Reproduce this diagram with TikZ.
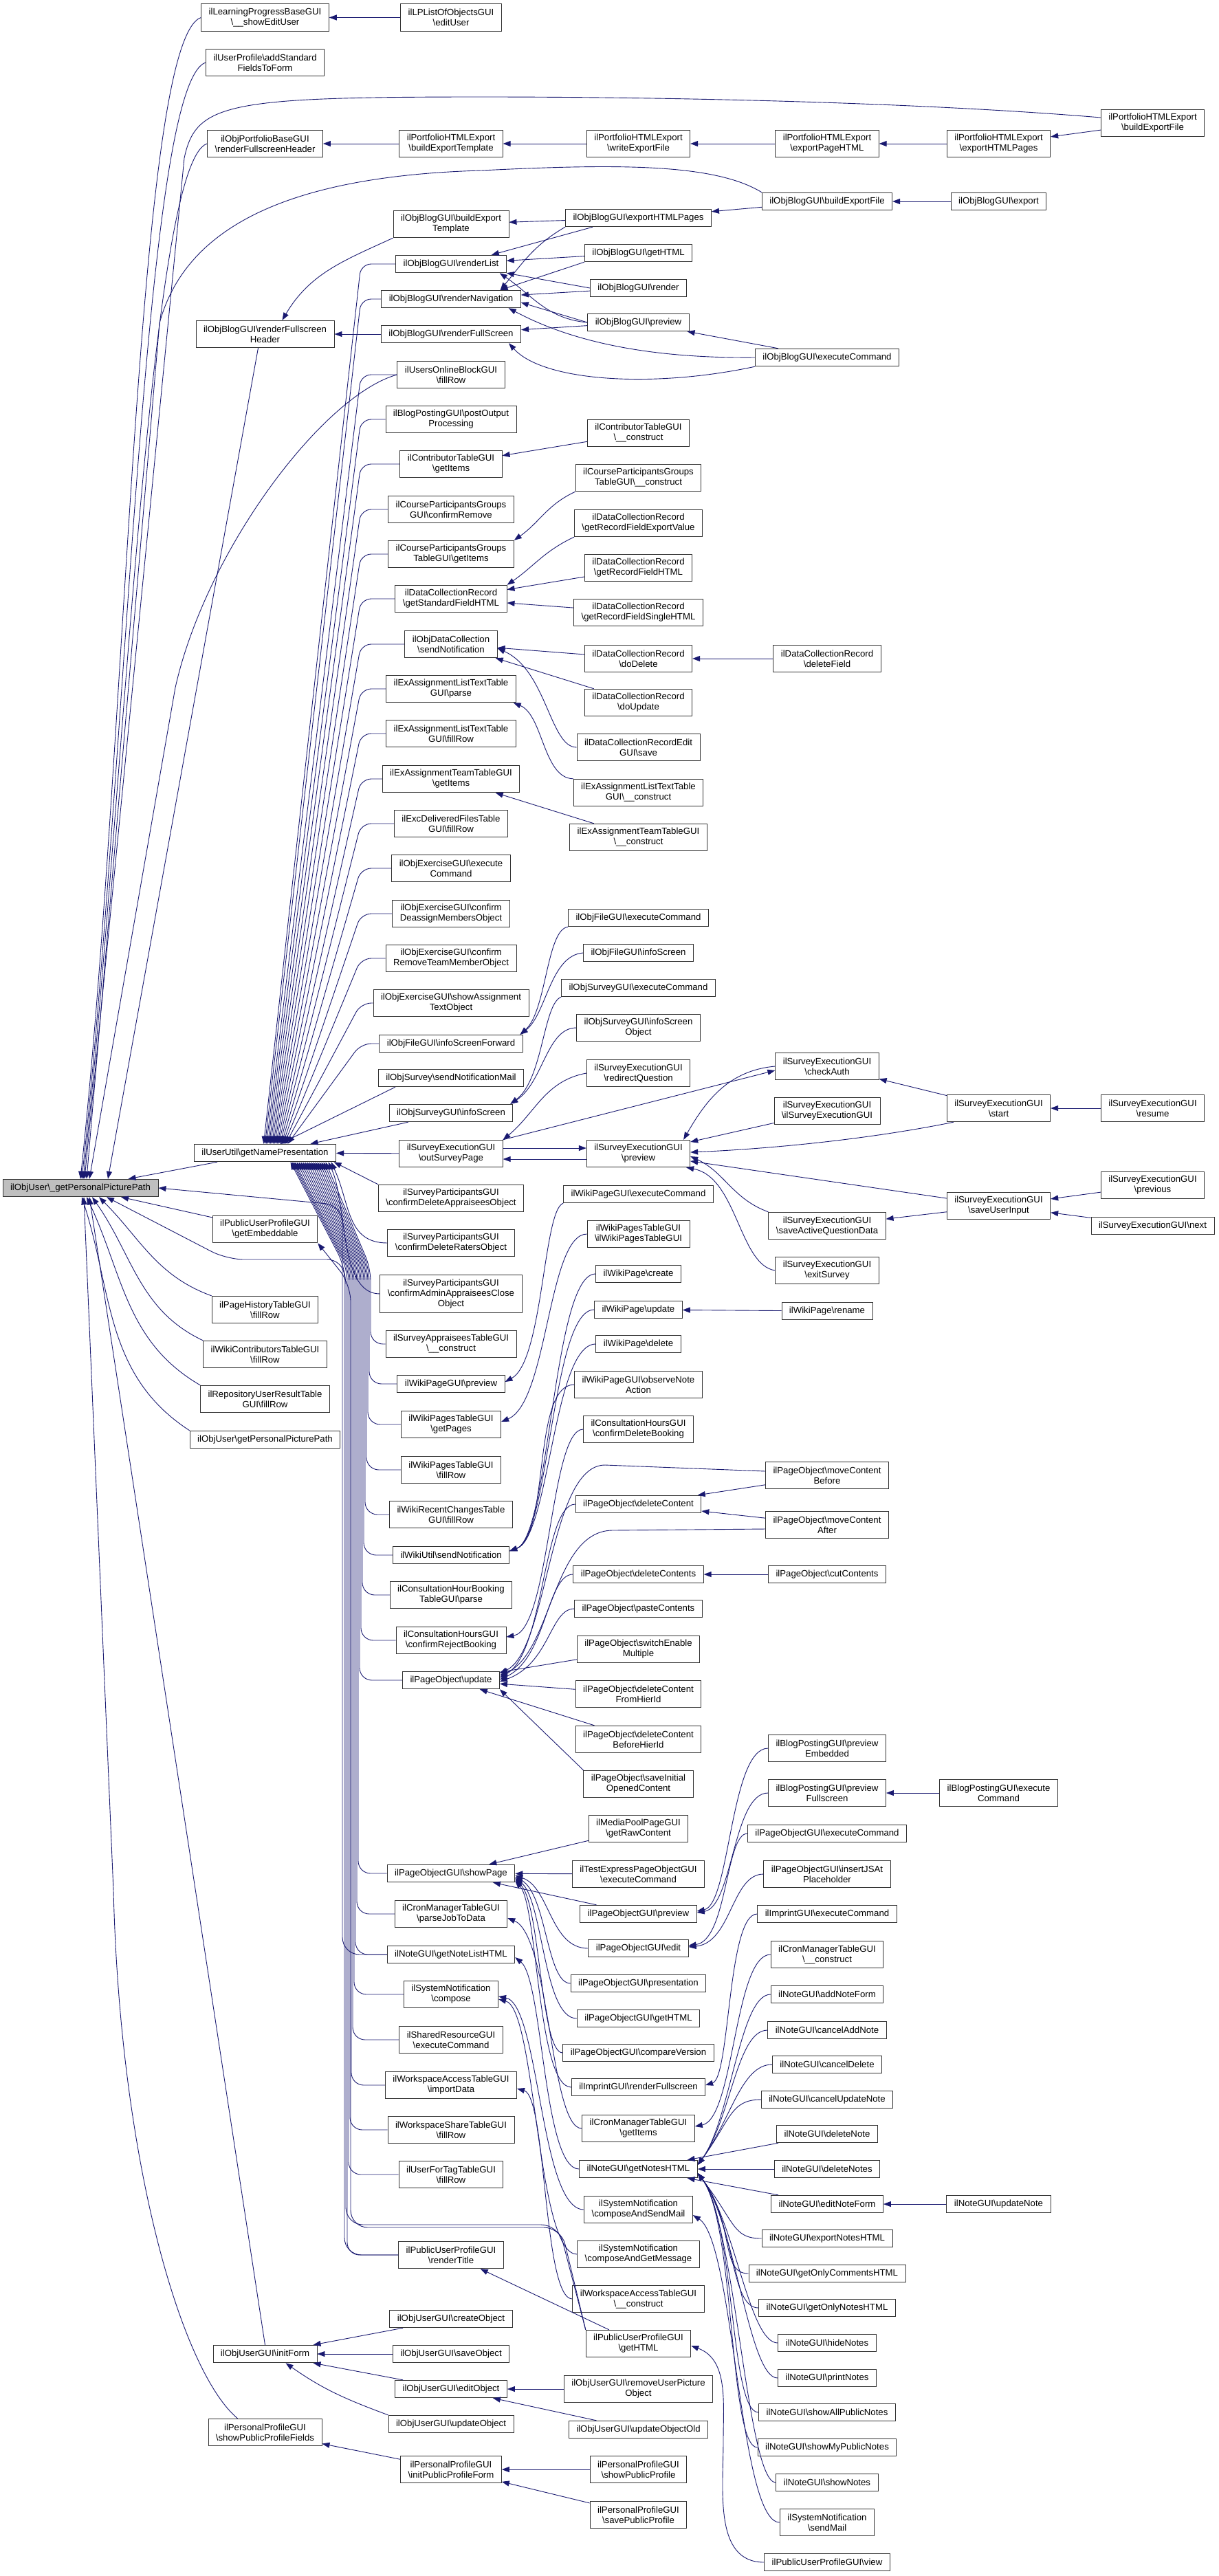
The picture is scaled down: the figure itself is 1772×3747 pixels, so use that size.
\documentclass[tikz,border=0pt]{standalone}
\usepackage{fontspec}
\setmainfont{Liberation Sans}
\usetikzlibrary{arrows.meta}
\definecolor{edgeblue}{HTML}{191970}
\definecolor{rootgray}{HTML}{BFBFBF}
\newcommand{\bsl}{\textbackslash}
\newcommand{\boxfont}{\fontsize{13.2}{15}\selectfont}
\tikzset{
  fn/.style={draw=black!80,line width=0.9pt,fill=white,align=center,
    inner xsep=11pt,inner ysep=0pt,minimum height=25.5pt,font=\boxfont},
  fnn/.style={fn,minimum height=39.5pt},
  fnnn/.style={fn,minimum height=54.5pt},
  call/.style={->,draw=edgeblue,line width=0.9pt},
}
\begin{document}
\begin{tikzpicture}[x=1pt,y=1pt,>={Triangle[length=11pt,width=8pt]}]
\useasboundingbox (0,0) rectangle (1772,-3747);

\node[fn,fill=rootgray] (root) at (117,-1728) {ilObjUser\bsl\_getPersonalPicturePath};

\node[fnn] (lpedit) at (385.5,-25.5) {ilLearningProgressBaseGUI\\\bsl\_\_showEditUser};
\node[fnn] (upadd) at (385.5,-91) {ilUserProfile\bsl addStandard\\FieldsToForm};
\node[fnn] (pbrfh) at (385.5,-209) {ilObjPortfolioBaseGUI\\\bsl renderFullscreenHeader};
\node[fnn] (brfh) at (385.5,-486) {ilObjBlogGUI\bsl renderFullscreen\\Header};
\node[fn] (gnp) at (385.5,-1677) {ilUserUtil\bsl getNamePresentation};
\node[fnn] (pupemb) at (385.5,-1788) {ilPublicUserProfileGUI\\\bsl getEmbeddable};
\node[fnn] (phfill) at (385.5,-1905) {ilPageHistoryTableGUI\\\bsl fillRow};
\node[fnn] (wcfill) at (385.5,-1970) {ilWikiContributorsTableGUI\\\bsl fillRow};
\node[fnn] (rurfill) at (385.5,-2035) {ilRepositoryUserResultTable\\GUI\bsl fillRow};
\node[fn] (gppp) at (385.5,-2094) {ilObjUser\bsl getPersonalPicturePath};
\node[fn] (uinit) at (385.5,-3424) {ilObjUserGUI\bsl initForm};
\node[fnn] (ppfields) at (385.5,-3538) {ilPersonalProfileGUI\\\bsl showPublicProfileFields};

\node[fnn] (lpuser) at (656,-25.5) {ilLPListOfObjectsGUI\\\bsl editUser};
\node[fnn] (pbet) at (656,-209) {ilPortfolioHTMLExport\\\bsl buildExportTemplate};
\node[fnn] (bbet) at (656,-326) {ilObjBlogGUI\bsl buildExport\\Template};
\node[fn] (brl) at (656,-384) {ilObjBlogGUI\bsl renderList};
\node[fn] (brn) at (656,-435) {ilObjBlogGUI\bsl renderNavigation};
\node[fn] (brfs) at (656,-486) {ilObjBlogGUI\bsl renderFullScreen};
\node[fnn] (uofill) at (656,-545) {ilUsersOnlineBlockGUI\\\bsl fillRow};
\node[fnn] (bpop) at (656,-610) {ilBlogPostingGUI\bsl postOutput\\Processing};
\node[fnn] (ctitems) at (656,-675) {ilContributorTableGUI\\\bsl getItems};
\node[fnn] (cpgrem) at (656,-741) {ilCourseParticipantsGroups\\GUI\bsl confirmRemove};
\node[fnn] (cpgitems) at (656,-806) {ilCourseParticipantsGroups\\TableGUI\bsl getItems};
\node[fnn] (dcrsfh) at (656,-871) {ilDataCollectionRecord\\\bsl getStandardFieldHTML};
\node[fnn] (dcnotif) at (656,-937) {ilObjDataCollection\\\bsl sendNotification};
\node[fnn] (exparse) at (656,-1002) {ilExAssignmentListTextTable\\GUI\bsl parse};
\node[fnn] (exfill) at (656,-1067) {ilExAssignmentListTextTable\\GUI\bsl fillRow};
\node[fnn] (extitems) at (656,-1133) {ilExAssignmentTeamTableGUI\\\bsl getItems};
\node[fnn] (excfill) at (656,-1198) {ilExcDeliveredFilesTable\\GUI\bsl fillRow};
\node[fnn] (oexec) at (656,-1263) {ilObjExerciseGUI\bsl execute\\Command};
\node[fnn] (odeassign) at (656,-1329) {ilObjExerciseGUI\bsl confirm\\DeassignMembersObject};
\node[fnn] (oremteam) at (656,-1394) {ilObjExerciseGUI\bsl confirm\\RemoveTeamMemberObject};
\node[fnn] (oshowtext) at (656,-1459) {ilObjExerciseGUI\bsl showAssignment\\TextObject};
\node[fn] (fisf) at (656,-1518) {ilObjFileGUI\bsl infoScreenForward};
\node[fn] (osnm) at (656,-1568) {ilObjSurvey\bsl sendNotificationMail};
\node[fn] (osis) at (656,-1619) {ilObjSurveyGUI\bsl infoScreen};
\node[fnn] (seosp) at (656,-1678) {ilSurveyExecutionGUI\\\bsl outSurveyPage};
\node[fnn] (spdelapp) at (656,-1743) {ilSurveyParticipantsGUI\\\bsl confirmDeleteAppraiseesObject};
\node[fnn] (spdelrat) at (656,-1808) {ilSurveyParticipantsGUI\\\bsl confirmDeleteRatersObject};
\node[fnnn] (spadmin) at (656,-1882) {ilSurveyParticipantsGUI\\\bsl confirmAdminAppraiseesClose\\Object};
\node[fnn] (satctor) at (656,-1955) {ilSurveyAppraiseesTableGUI\\\bsl\_\_construct};
\node[fn] (wpgprev) at (656,-2013) {ilWikiPageGUI\bsl preview};
\node[fnn] (wptpages) at (656,-2072) {ilWikiPagesTableGUI\\\bsl getPages};
\node[fnn] (wptfill) at (656,-2138) {ilWikiPagesTableGUI\\\bsl fillRow};
\node[fnn] (wrcfill) at (656,-2203) {ilWikiRecentChangesTable\\GUI\bsl fillRow};
\node[fn] (wusend) at (656,-2262) {ilWikiUtil\bsl sendNotification};
\node[fnn] (chbparse) at (656,-2320) {ilConsultationHourBooking\\TableGUI\bsl parse};
\node[fnn] (chreject) at (656,-2386) {ilConsultationHoursGUI\\\bsl confirmRejectBooking};
\node[fn] (poupdate) at (656,-2444) {ilPageObject\bsl update};
\node[fn] (pogshow) at (656,-2725) {ilPageObjectGUI\bsl showPage};
\node[fnn] (cmparse) at (656,-2784) {ilCronManagerTableGUI\\\bsl parseJobToData};
\node[fn] (nglist) at (656,-2843) {ilNoteGUI\bsl getNoteListHTML};
\node[fnn] (sncompose) at (656,-2901) {ilSystemNotification\\\bsl compose};
\node[fnn] (srexec) at (656,-2967) {ilSharedResourceGUI\\\bsl executeCommand};
\node[fnn] (waimport) at (656,-3033) {ilWorkspaceAccessTableGUI\\\bsl importData};
\node[fnn] (wsfill) at (656,-3098) {ilWorkspaceShareTableGUI\\\bsl fillRow};
\node[fnn] (uftfill) at (656,-3163) {ilUserForTagTableGUI\\\bsl fillRow};
\node[fnn] (puptitle) at (656,-3280) {ilPublicUserProfileGUI\\\bsl renderTitle};
\node[fn] (ucreate) at (656,-3373) {ilObjUserGUI\bsl createObject};
\node[fn] (usave) at (656,-3424) {ilObjUserGUI\bsl saveObject};
\node[fn] (uedit) at (656,-3475) {ilObjUserGUI\bsl editObject};
\node[fn] (uupdate) at (656,-3526) {ilObjUserGUI\bsl updateObject};
\node[fnn] (ppinit) at (656,-3592) {ilPersonalProfileGUI\\\bsl initPublicProfileForm};

\node[fnn] (pwef) at (928.5,-209) {ilPortfolioHTMLExport\\\bsl writeExportFile};
\node[fn] (behp) at (928.5,-317) {ilObjBlogGUI\bsl exportHTMLPages};
\node[fn] (bhtml) at (928.5,-368) {ilObjBlogGUI\bsl getHTML};
\node[fn] (brender) at (928.5,-419) {ilObjBlogGUI\bsl render};
\node[fn] (bprev) at (928.5,-469) {ilObjBlogGUI\bsl preview};
\node[fnn] (ctctor) at (928.5,-630) {ilContributorTableGUI\\\bsl\_\_construct};
\node[fnn] (cpgctor) at (928.5,-695) {ilCourseParticipantsGroups\\TableGUI\bsl\_\_construct};
\node[fnn] (dcrexp) at (928.5,-761) {ilDataCollectionRecord\\\bsl getRecordFieldExportValue};
\node[fnn] (dcrhtml) at (928.5,-826) {ilDataCollectionRecord\\\bsl getRecordFieldHTML};
\node[fnn] (dcrsingle) at (928.5,-891) {ilDataCollectionRecord\\\bsl getRecordFieldSingleHTML};
\node[fnn] (dcrdel) at (928.5,-958) {ilDataCollectionRecord\\\bsl doDelete};
\node[fnn] (dcrupd) at (928.5,-1022) {ilDataCollectionRecord\\\bsl doUpdate};
\node[fnn] (dcesave) at (928.5,-1087) {ilDataCollectionRecordEdit\\GUI\bsl save};
\node[fnn] (exctor) at (928.5,-1153) {ilExAssignmentListTextTable\\GUI\bsl\_\_construct};
\node[fnn] (extctor) at (928.5,-1218) {ilExAssignmentTeamTableGUI\\\bsl\_\_construct};
\node[fn] (fexec) at (928.5,-1335) {ilObjFileGUI\bsl executeCommand};
\node[fn] (finfo) at (928.5,-1386) {ilObjFileGUI\bsl infoScreen};
\node[fn] (osexec) at (928.5,-1437) {ilObjSurveyGUI\bsl executeCommand};
\node[fnn] (osiso) at (928.5,-1495) {ilObjSurveyGUI\bsl infoScreen\\Object};
\node[fnn] (seredir) at (928.5,-1561) {ilSurveyExecutionGUI\\\bsl redirectQuestion};
\node[fnn] (seprev) at (928.5,-1678) {ilSurveyExecutionGUI\\\bsl preview};
\node[fn] (wpgexec) at (928.5,-1737) {ilWikiPageGUI\bsl executeCommand};
\node[fnn] (wptctor) at (928.5,-1795) {ilWikiPagesTableGUI\\\bsl ilWikiPagesTableGUI};
\node[fn] (wpcreate) at (928.5,-1853) {ilWikiPage\bsl create};
\node[fn] (wpupdate) at (928.5,-1905) {ilWikiPage\bsl update};
\node[fn] (wpdelete) at (928.5,-1955) {ilWikiPage\bsl delete};
\node[fnn] (wpgobs) at (928.5,-2014) {ilWikiPageGUI\bsl observeNote\\Action};
\node[fnn] (chdel) at (928.5,-2079) {ilConsultationHoursGUI\\\bsl confirmDeleteBooking};
\node[fn] (podelc) at (928.5,-2188) {ilPageObject\bsl deleteContent};
\node[fn] (podelcs) at (928.5,-2290) {ilPageObject\bsl deleteContents};
\node[fn] (popaste) at (928.5,-2340) {ilPageObject\bsl pasteContents};
\node[fnn] (poswitch) at (928.5,-2399) {ilPageObject\bsl switchEnable\\Multiple};
\node[fnn] (podelfrom) at (928.5,-2464) {ilPageObject\bsl deleteContent\\FromHierId};
\node[fnn] (podelbef) at (928.5,-2530) {ilPageObject\bsl deleteContent\\BeforeHierId};
\node[fnn] (posave) at (928.5,-2595) {ilPageObject\bsl saveInitial\\OpenedContent};
\node[fnn] (mpraw) at (928.5,-2660) {ilMediaPoolPageGUI\\\bsl getRawContent};
\node[fnn] (teexec) at (928.5,-2726) {ilTestExpressPageObjectGUI\\\bsl executeCommand};
\node[fn] (pogprev) at (928.5,-2784) {ilPageObjectGUI\bsl preview};
\node[fn] (pogedit) at (928.5,-2834) {ilPageObjectGUI\bsl edit};
\node[fn] (pogpres) at (928.5,-2885) {ilPageObjectGUI\bsl presentation};
\node[fn] (poghtml) at (928.5,-2936) {ilPageObjectGUI\bsl getHTML};
\node[fn] (pogcmp) at (928.5,-2986) {ilPageObjectGUI\bsl compareVersion};
\node[fn] (imprfs) at (928.5,-3036) {ilImprintGUI\bsl renderFullscreen};
\node[fnn] (cmitems) at (928.5,-3096) {ilCronManagerTableGUI\\\bsl getItems};
\node[fn] (ngnotes) at (928.5,-3155) {ilNoteGUI\bsl getNotesHTML};
\node[fnn] (snsend) at (928.5,-3214) {ilSystemNotification\\\bsl composeAndSendMail};
\node[fnn] (snget) at (928.5,-3279) {ilSystemNotification\\\bsl composeAndGetMessage};
\node[fnn] (wactor) at (928.5,-3344) {ilWorkspaceAccessTableGUI\\\bsl\_\_construct};
\node[fnn] (puphtml) at (928.5,-3409) {ilPublicUserProfileGUI\\\bsl getHTML};
\node[fnn] (uremove) at (928.5,-3475) {ilObjUserGUI\bsl removeUserPicture\\Object};
\node[fn] (uupdold) at (928.5,-3534) {ilObjUserGUI\bsl updateObjectOld};
\node[fnn] (ppshow) at (928.5,-3592) {ilPersonalProfileGUI\\\bsl showPublicProfile};
\node[fnn] (ppsavep) at (928.5,-3658) {ilPersonalProfileGUI\\\bsl savePublicProfile};

\node[fnn] (pephtml) at (1203,-209) {ilPortfolioHTMLExport\\\bsl exportPageHTML};
\node[fn] (bbef) at (1203,-293) {ilObjBlogGUI\bsl buildExportFile};
\node[fn] (bexec) at (1203,-520) {ilObjBlogGUI\bsl executeCommand};
\node[fnn] (dcrdelf) at (1203,-958) {ilDataCollectionRecord\\\bsl deleteField};
\node[fnn] (seauth) at (1203,-1551) {ilSurveyExecutionGUI\\\bsl checkAuth};
\node[fnn] (sector) at (1203,-1616) {ilSurveyExecutionGUI\\\bsl ilSurveyExecutionGUI};
\node[fnn] (sesave) at (1203,-1783) {ilSurveyExecutionGUI\\\bsl saveActiveQuestionData};
\node[fnn] (seexit) at (1203,-1848) {ilSurveyExecutionGUI\\\bsl exitSurvey};
\node[fn] (wprename) at (1203,-1907) {ilWikiPage\bsl rename};
\node[fnn] (pomvb) at (1203,-2146) {ilPageObject\bsl moveContent\\Before};
\node[fnn] (pomva) at (1203,-2218) {ilPageObject\bsl moveContent\\After};
\node[fn] (pocut) at (1203,-2290) {ilPageObject\bsl cutContents};
\node[fnn] (bpemb) at (1203,-2543) {ilBlogPostingGUI\bsl preview\\Embedded};
\node[fnn] (bpfull) at (1203,-2608) {ilBlogPostingGUI\bsl preview\\Fullscreen};
\node[fn] (pogexec) at (1203,-2667) {ilPageObjectGUI\bsl executeCommand};
\node[fnn] (pogjs) at (1203,-2726) {ilPageObjectGUI\bsl insertJSAt\\Placeholder};
\node[fn] (imprexec) at (1203,-2784) {ilImprintGUI\bsl executeCommand};
\node[fnn] (cmctor) at (1203,-2843) {ilCronManagerTableGUI\\\bsl\_\_construct};
\node[fn] (nadd) at (1203,-2901) {ilNoteGUI\bsl addNoteForm};
\node[fn] (ncanadd) at (1203,-2953) {ilNoteGUI\bsl cancelAddNote};
\node[fn] (ncandel) at (1203,-3003) {ilNoteGUI\bsl cancelDelete};
\node[fn] (ncanupd) at (1203,-3054) {ilNoteGUI\bsl cancelUpdateNote};
\node[fn] (ndel) at (1203,-3104) {ilNoteGUI\bsl deleteNote};
\node[fn] (ndels) at (1203,-3155) {ilNoteGUI\bsl deleteNotes};
\node[fn] (nedit) at (1203,-3206) {ilNoteGUI\bsl editNoteForm};
\node[fn] (nexport) at (1203,-3256) {ilNoteGUI\bsl exportNotesHTML};
\node[fn] (ncomm) at (1203,-3307) {ilNoteGUI\bsl getOnlyCommentsHTML};
\node[fn] (nonly) at (1203,-3357) {ilNoteGUI\bsl getOnlyNotesHTML};
\node[fn] (nhide) at (1203,-3408) {ilNoteGUI\bsl hideNotes};
\node[fn] (nprint) at (1203,-3459) {ilNoteGUI\bsl printNotes};
\node[fn] (nallpub) at (1203,-3509) {ilNoteGUI\bsl showAllPublicNotes};
\node[fn] (nmypub) at (1203,-3560) {ilNoteGUI\bsl showMyPublicNotes};
\node[fn] (nshow) at (1203,-3611) {ilNoteGUI\bsl showNotes};
\node[fnn] (snmail) at (1203,-3669) {ilSystemNotification\\\bsl sendMail};
\node[fn] (pupview) at (1203,-3727) {ilPublicUserProfileGUI\bsl view};

\node[fnn] (pehp) at (1452.5,-209) {ilPortfolioHTMLExport\\\bsl exportHTMLPages};
\node[fn] (bexport) at (1452.5,-293) {ilObjBlogGUI\bsl export};
\node[fnn] (sestart) at (1452.5,-1612) {ilSurveyExecutionGUI\\\bsl start};
\node[fnn] (seinput) at (1452.5,-1754) {ilSurveyExecutionGUI\\\bsl saveUserInput};
\node[fnn] (bpexec) at (1452.5,-2608) {ilBlogPostingGUI\bsl execute\\Command};
\node[fn] (nupd) at (1452.5,-3206) {ilNoteGUI\bsl updateNote};

\node[fnn] (pbef) at (1676.5,-179) {ilPortfolioHTMLExport\\\bsl buildExportFile};
\node[fnn] (seresume) at (1676.5,-1612) {ilSurveyExecutionGUI\\\bsl resume};
\node[fnn] (seprevq) at (1676.5,-1724) {ilSurveyExecutionGUI\\\bsl previous};
\node[fn] (senext) at (1676.5,-1783) {ilSurveyExecutionGUI\bsl next};

\foreach \a/\b in {lpuser/lpedit,pbet/pbrfh,pwef/pbet,pephtml/pwef,pehp/pephtml,pbef/pehp,
  behp/bbet,bbef/behp,bexport/bbef,bexec/bprev,brfs/brfh,bhtml/brl,brender/brn,bprev/brfs,
  ctctor/ctitems,dcrhtml/dcrsfh,dcrsingle/dcrsfh,dcrdelf/dcrdel,dcrdel/dcnotif,dcrupd/dcnotif,
  extctor/extitems,sector/seprev,seinput/seprev,sestart/seauth,seresume/sestart,seinput/sesave,
  seprevq/seinput,senext/seinput,seosp/gnp,gnp/root,pupemb/root,wprename/wpupdate,
  pomvb/podelc,pomva/podelc,pocut/podelcs,poswitch/poupdate,podelfrom/poupdate,podelbef/poupdate,
  mpraw/pogshow,teexec/pogshow,pogprev/pogshow,bpexec/bpfull,nupd/nedit,ndel/ngnotes,
  ndels/ngnotes,nedit/ngnotes,ucreate/uinit,usave/uinit,uedit/uinit,uremove/uedit,
  uupdold/uedit,ppinit/ppfields,ppshow/ppinit,ppsavep/ppinit,puphtml/puptitle}
  {\draw[call] (\a) -- (\b);}

\draw[call] (lpedit.west) .. controls +(-94,-34) and +(70,660) .. (root.north);
\draw[call] (upadd.west) .. controls +(-90,-33) and +(68,640) .. ([xshift=2pt]root.north);
\draw[call] (pbrfh.west) .. controls +(-84,-30) and +(62,590) .. ([xshift=4pt]root.north);
\draw[call] ([yshift=8pt]pbef.west) .. controls (1350,-150) and (1000,-141) .. (700,-141)
  .. controls (330,-141) and (285,-150) .. (268,-230) -- ([xshift=6pt]root.north);
\draw[call] (bbef.north west) .. controls (1040,-238) and (900,-238) .. (700,-248)
  .. controls (420,-256) and (270,-330) .. (232,-470) -- ([xshift=9pt]root.north);
\draw[call] (uofill.west) .. controls (470,-575) and (300,-800) .. (255,-1000) -- ([xshift=13pt]root.north);
\draw[call] ([xshift=-10pt]brfh.south) -- ([xshift=40pt]root.north);
\draw[call] (phfill.north west) .. controls +(-80,29) and +(60,-60) .. ([xshift=27pt]root.south);
\draw[call] (wcfill.north west) .. controls +(-93,44) and +(59,-84) .. ([xshift=17pt]root.south);
\draw[call] (rurfill.north west) .. controls +(-108,63) and +(53,-113) .. ([xshift=9pt]root.south);
\draw[call] (gppp.north west) .. controls +(-123,80) and +(45,-140) .. ([xshift=2pt]root.south);
\draw[call] (uinit.north) -- ([xshift=13pt]root.south);
\draw[call] ([xshift=-40pt]ppfields.north) .. controls (265,-3450) and (175,-3150) .. (165,-2750) -- ([xshift=5pt]root.south);
\draw[call,rounded corners=25pt] (nglist.west) -- (498,-2843) -- (498,-1753) -- (root.east);
\draw[call,rounded corners=25pt] (puptitle.west) -- (501,-3280) -- (501,-1832) -- (330,-1832) -- ([xshift=38pt]root.south);

\draw[call] ([xshift=40pt]behp.south west) -- ([xshift=-22pt]brl.north east);
\draw[call] (behp.south west) .. controls +(-45,-26) and +(33,40) .. ([xshift=-30pt]brn.north east);
\draw[call] (bhtml.south west) -- ([xshift=-30pt]brn.north east);
\draw[call] (brender.west) -- (brl.south east);
\draw[call] (bprev.west) .. controls +(-58,5) and +(48,-33) .. ([xshift=-10pt]brl.south east);
\draw[call] (bprev.west) -- ([yshift=-5pt]brn.east);
\draw[call] (bexec.west) .. controls (900,-522) and (800,-480) .. ([xshift=-18pt]brn.south east);
\draw[call] (bexec.south west) .. controls (950,-565) and (790,-555) .. ([xshift=-18pt]brfs.south east);
\draw[call] (bbet.south west) .. controls +(-72,-33) and +(40,68) .. ([xshift=25pt]brfh.north);

\draw[call] (cpgctor.south west) .. controls +(-41,-19) and +(37,26) .. (cpgitems.north east);
\draw[call] (dcrexp.south west) .. controls +(-43,-20) and +(39,27) .. (dcrsfh.north east);
\draw[call] (dcesave.west) .. controls (800,-1087) and (795,-975) .. ([yshift=-6pt]dcnotif.east);
\draw[call] (exctor.north west) .. controls (790,-1132) and (790,-1040) .. ([xshift=-4pt]exparse.south east);
\draw[call] (fexec.south west) .. controls (795,-1352) and (795,-1470) .. ([xshift=-4pt]fisf.north east);
\draw[call] (finfo.west) .. controls (800,-1390) and (795,-1475) .. ([xshift=-4pt]fisf.north east);
\draw[call] (osexec.south west) .. controls (790,-1460) and (790,-1570) .. ([xshift=-4pt]osis.north east);
\draw[call] (osiso.west) .. controls (795,-1495) and (790,-1575) .. ([xshift=-4pt]osis.north east);
\draw[call] (seredir.west) .. controls +(-60,-11) and +(47,39) .. (seosp.north east);

\draw[call] ([yshift=8pt]seosp.east) -- ([yshift=8pt]seprev.west);
\draw[call] ([yshift=-8pt]seprev.west) -- ([yshift=-8pt]seosp.east);
\draw[call] (seosp.north east) -- ([yshift=-6pt]seauth.west);
\draw[call] (seauth.west) .. controls +(-67,-6) and +(33,58) .. ([xshift=-10pt]seprev.north east);
\draw[call] ([xshift=10pt]sestart.south west) .. controls (1250,-1660) and (1100,-1672) .. ([yshift=2pt]seprev.east);
\draw[call] (sesave.north west) .. controls +(-52,19) and +(50,-23) .. ([yshift=-4pt]seprev.east);
\draw[call] (seexit.west) .. controls (1075,-1840) and (1072,-1712) .. ([xshift=-6pt]seprev.south east);

\draw[call] (wpgexec.south west) .. controls (790,-1760) and (790,-1980) .. ([yshift=3pt]wpgprev.east);
\draw[call] (wptctor.west) .. controls (797,-1795) and (797,-2040) .. ([yshift=4pt]wptpages.east);
\foreach \n in {wpcreate,wpupdate,wpdelete,wpgobs}
  {\draw[call] (\n.west) .. controls +(-62,0) and (800,-2235) .. ([yshift=6pt]wusend.east);}
\draw[call] (chdel.west) .. controls (800,-2079) and (800,-2370) .. ([yshift=5pt]chreject.east);
\draw[call] ([yshift=6pt]pomvb.west) -- (880,-2131) .. controls (798,-2131) and (798,-2400) .. ([yshift=10pt]poupdate.east);
\draw[call] ([yshift=-6pt]pomva.west) -- (890,-2226) .. controls (803,-2228) and (803,-2405) .. ([yshift=7pt]poupdate.east);
\draw[call] (podelc.west) .. controls (790,-2188) and (792,-2405) .. ([yshift=4pt]poupdate.east);
\draw[call] (podelcs.west) .. controls (795,-2290) and (795,-2412) .. ([yshift=1pt]poupdate.east);
\draw[call] (popaste.west) .. controls (800,-2340) and (800,-2420) .. ([yshift=-2pt]poupdate.east);
\draw[call] (posave.north west) -- (poupdate.south east);

\draw[call] (pogedit.west) .. controls (800,-2834) and (800,-2745) .. ([yshift=-3pt]pogshow.east);
\draw[call] (pogpres.west) .. controls (795,-2885) and (795,-2755) .. ([yshift=-5pt]pogshow.east);
\draw[call] (poghtml.west) .. controls (790,-2936) and (790,-2762) .. ([yshift=-7pt]pogshow.east);
\draw[call] (pogcmp.west) .. controls (786,-2986) and (786,-2768) .. ([yshift=-9pt]pogshow.east);
\draw[call] (imprfs.west) .. controls (782,-3036) and (782,-2772) .. ([yshift=-11pt]pogshow.east);
\draw[call] (bpemb.west) .. controls (1062,-2543) and (1062,-2770) .. ([yshift=4pt]pogprev.east);
\draw[call] (bpfull.west) .. controls (1066,-2608) and (1066,-2774) .. ([yshift=2pt]pogprev.east);
\draw[call] (pogexec.west) .. controls (1055,-2667) and (1058,-2822) .. ([yshift=4pt]pogedit.east);
\draw[call] (pogjs.west) .. controls (1064,-2726) and (1064,-2826) .. ([yshift=2pt]pogedit.east);
\draw[call] (imprexec.west) .. controls (1058,-2784) and (1062,-3022) .. ([yshift=3pt]imprfs.east);
\draw[call] (cmctor.west) .. controls (1068,-2843) and (1068,-3082) .. ([yshift=3pt]cmitems.east);

\foreach \n in {nadd,ncanadd,ncandel,ncanupd}
  {\draw[call] (\n.west) .. controls +(-45,0) and +(48,65) .. ([yshift=6pt]ngnotes.east);}
\foreach \n in {nexport,ncomm,nonly,nhide,nprint,nallpub,nmypub,nshow}
  {\draw[call] (\n.west) .. controls +(-42,0) and +(55,-72) .. ([yshift=-6pt]ngnotes.east);}
\draw[call] (ngnotes.west) .. controls (790,-3155) and (790,-2880) .. ([yshift=-4pt]nglist.east);
\draw[call] (cmitems.west) .. controls (800,-3096) and (800,-2815) .. ([yshift=-6pt]cmparse.east);
\draw[call] (snsend.west) .. controls (785,-3214) and (785,-2915) .. ([yshift=-3pt]sncompose.east);
\draw[call] (snget.west) .. controls (780,-3279) and (780,-2922) .. ([yshift=-7pt]sncompose.east);
\draw[call] (wactor.west) .. controls (790,-3344) and (795,-3050) .. ([yshift=-5pt]waimport.east);
\draw[call] (snmail.west) .. controls (1075,-3669) and (1068,-3260) .. ([yshift=-8pt]snsend.east);
\draw[call] (pupview.west) .. controls +(-73,0) and +(0,-73) .. (1052,-3550)
  .. controls +(0,57) and +(54,-20) .. ([yshift=-3pt]puphtml.east);
\draw[call] (uupdate.north west) .. controls +(-62,23) and +(54,-38) .. ([xshift=30pt]uinit.south);

\coordinate (tch) at (525,0);
\foreach \n/\dx in {brl/-2,brn/0,uofill/2,bpop/4,ctitems/6,cpgrem/8,cpgitems/10,dcrsfh/12,
  dcnotif/14,exparse/16,exfill/18,extitems/20,excfill/22,oexec/24,odeassign/26,oremteam/28,
  oshowtext/30,fisf/33}
  {\draw[call,rounded corners=15pt] (\n.west) -- (\n.west -| tch) -- ([xshift=\dx pt]gnp.north);}
\draw[call] ([xshift=25pt]osnm.south west) -- ([xshift=22pt]gnp.north);
\draw[call] ([xshift=28pt]osis.south west) -- ([xshift=66pt]gnp.north);
\draw[call] (spdelapp.north west) -- ([xshift=100pt]gnp.south);
\foreach \n/\dx in {spdelrat/96,spadmin/92}
  {\draw[call] (\n.west) .. controls +(-60,0) and +(28,-60) .. ([xshift=\dx pt]gnp.south);}
\foreach \n/\dx/\cx in {satctor/88/539,wpgprev/85/537,wptpages/82/535,wptfill/79/533,
  wrcfill/76/531,wusend/73/529,chbparse/70/527,chreject/67/525,poupdate/64/523,pogshow/61/521,
  cmparse/58/519,nglist/55/517,sncompose/52/515,srexec/49/513,waimport/46/511,wsfill/43/509,
  uftfill/41/507,puptitle/39/505}
  {\draw[call,rounded corners=18pt] (\n.west) -- (\cx,0 |- \n.west) -- (\cx,-1845) -- ([xshift=\dx pt]gnp.south);}
\draw[call,rounded corners=25pt] (puphtml.north west) -- (812,-3236) -- (503,-3236) -- (503,-1845) -- ([xshift=37pt]gnp.south);
\draw[call,rounded corners=25pt] (puphtml.north west) -- (816,-3240) -- (510,-3240) -- (510,-1868) -- (pupemb.south east);
\end{tikzpicture}
\end{document}
